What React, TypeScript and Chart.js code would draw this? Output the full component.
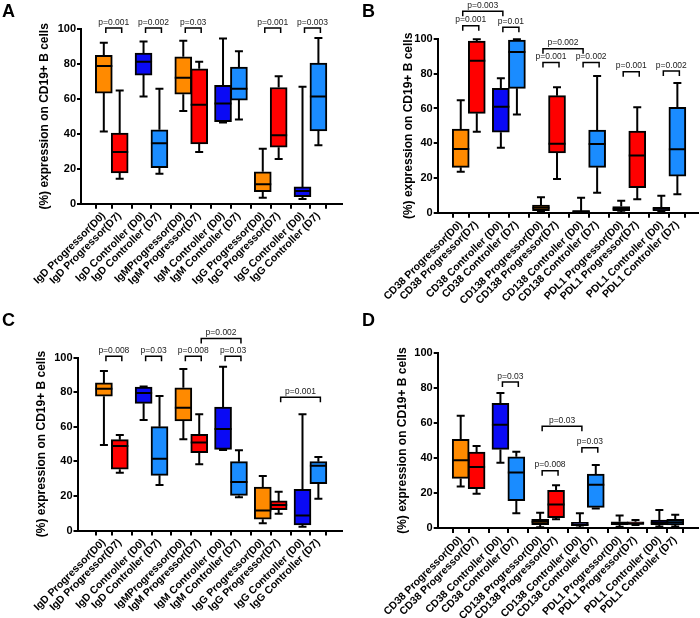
import React, { useEffect, useRef } from "react";
import { Chart, registerables } from "chart.js";

Chart.register(...registerables);

const FONT = "'Liberation Sans', Arial, Helvetica, sans-serif";
Chart.defaults.font.family = FONT;

// ---------- categories ----------
const labelsIg = [
  "IgD Progressor(D0)", "IgD Progressor(D7)", "IgD Controller (D0)", "IgD Controller (D7)",
  "IgMProgressor(D0)", "IgM Progressor(D7)", "IgM Controller (D0)", "IgM Controller (D7)",
  "IgG Progressor(D0)", "IgG Progressor(D7)", "IgG Controller (D0)", "IgG Controller (D7)",
];
const labelsCD = [
  "CD38 Progressor(D0)", "CD38 Progressor(D7)", "CD38 Controller (D0)", "CD38 Controller (D7)",
  "CD138 Progressor(D0)", "CD138 Progressor(D7)", "CD138 Controller (D0)", "CD138 Controller (D7)",
  "PDL1 Progressor(D0)", "PDL1 Progressor(D7)", "PDL1 Controller (D0)", "PDL1 Controller (D7)",
];
// x slots of the 12 boxes (pairs touch, gap between pairs)
const slots = [0, 2, 5, 7, 10, 12, 15, 17, 20, 22, 25, 27];
const yTicks = [0, 20, 40, 60, 80, 100];

// ---------- panel A ----------
const aMin = [41.3, 14.3, 61.4, 17.2, 53, 29.6, 46.5, 48.2, 3.4, 25.6, 2.7, 33.5];
const aQ1 = [63.3, 17.6, 73.6, 20.6, 62.7, 34.2, 47, 59.3, 6.9, 32.3, 4, 41.7];
const aMed = [78.8, 29.6, 81.2, 34.6, 72.1, 56.6, 57.3, 65.8, 11.1, 39.2, 7.3, 61.4];
const aQ3 = [85, 40.4, 86.2, 42.3, 84.1, 77.2, 67.7, 78.2, 18.3, 66.5, 9.6, 80.5];
const aMax = [92.1, 64.8, 92.9, 65.8, 93.3, 81.3, 94.6, 87.2, 31.5, 73, 66.9, 94.8];
const aBrFrom = [0, 2, 4, 8, 10];
const aBrTo = [1, 3, 5, 9, 11];
const aBrText = ["p=0.001", "p=0.002", "p=0.03", "p=0.001", "p=0.003"];
const aBrLevel = [100.6, 100.6, 100.6, 100.6, 100.6];

// ---------- panel B ----------
const bMin = [23.6, 46.6, 37.4, 56.6, 0.4, 19.4, 0.1, 11.5, 0.3, 7.7, 0.4, 10.6];
const bQ1 = [26.1, 57.2, 46.3, 71.6, 1.2, 34.4, 0.3, 26.1, 1.2, 14.4, 1.2, 21.1];
const bMed = [36.7, 87.5, 61, 92.5, 2.9, 39.7, 0.7, 39.6, 2.3, 33, 2.3, 36.5];
const bQ3 = [48.2, 98.8, 71.6, 99.4, 4.4, 67.4, 1.2, 47.6, 3.5, 47, 3.1, 60.7];
const bMax = [64.7, 99.8, 77.4, 99.8, 8.9, 72.2, 8.6, 78.7, 6.9, 60.7, 9.8, 74.7];
const bBrFrom = [0, 0, 2, 4, 4, 6, 8, 10];
const bBrTo = [1, 2, 3, 5, 6, 7, 9, 11];
const bBrText = ["p=0.001", "p=0.003", "p=0.01", "p=0.001", "p=0.002", "p=0.002", "p=0.001", "p=0.002"];
const bBrLevel = [107.7, 116, 106.7, 86.4, 94.4, 86.4, 81.2, 81.6];

// ---------- panel C ----------
const cMin = [49.4, 33.4, 63.9, 26.3, 52.7, 38.3, 46.5, 19.2, 4.2, 9.7, 2.2, 18.4];
const cQ1 = [77.6, 35.4, 73.5, 31.9, 63.3, 45, 46.9, 20.3, 6.5, 12, 3.2, 27.1];
const cMed = [82, 48.8, 79.5, 41.5, 71, 50.8, 58.7, 28, 11.5, 14.7, 8.6, 37.5];
const cQ3 = [85.3, 52.5, 82.9, 60, 82.5, 55.6, 71.4, 39.8, 25.1, 17.1, 23.8, 39.8];
const cMax = [92.2, 55.2, 83.3, 77.7, 93.4, 67.2, 94.7, 46.4, 31.5, 22.4, 67.2, 42.5];
const cBrFrom = [0, 2, 4, 6, 5, 9];
const cBrTo = [1, 3, 5, 7, 7, 11];
const cBrText = ["p=0.008", "p=0.03", "p=0.008", "p=0.03", "p=0.002", "p=0.001"];
const cBrLevel = [100.7, 100.7, 100.7, 100.7, 111, 77];

// ---------- panel D ----------
const dMin = [23.7, 19.6, 37.4, 8.4, 0.5, 5, 0.3, 11.2, 0.7, 1.7, 0.8, 0.9];
const dQ1 = [28.4, 22.5, 45, 15.6, 1.9, 5.9, 1.3, 11.8, 1.9, 2.1, 1.9, 1.7];
const dMed = [38.8, 34.9, 59.1, 31.7, 3.6, 13.4, 1.8, 24.8, 2.8, 2.6, 3, 3.3];
const dQ3 = [50.8, 43.5, 71.4, 40.8, 5, 21.6, 3.2, 30.9, 3.6, 3.6, 4.6, 5];
const dMax = [64.3, 46.9, 77.3, 43.7, 8.8, 24.4, 8.4, 36.1, 7.2, 4.6, 10.3, 7.6];
const dBrFrom = [2, 4, 4, 6];
const dBrTo = [3, 6, 5, 7];
const dBrText = ["p=0.03", "p=0.03", "p=0.008", "p=0.03"];
const dBrLevel = [83.6, 58.2, 32.8, 46];

// ---------- styles ----------
const groupColors = ["#FF8A00", "#FF0000", "#0A0AF5", "#1A8CFF"];
const Y_TITLE = "(%) expression on CD19+ B cells";
const BOX_W = 17;
const CAP_W = 8;

type Panel = {
  letter: string;
  left: number;
  top: number;
  labels: string[];
  min: number[]; q1: number[]; med: number[]; q3: number[]; max: number[];
  brFrom: number[]; brTo: number[]; brText: string[]; brLevel: number[];
  padLeft: number; padTop: number; padRight: number;
  yWidth: number; xHeight: number; xMin: number; xMax: number;
};

const panels: Panel[] = [
  { letter: "A", left: 0, top: 0, labels: labelsIg, min: aMin, q1: aQ1, med: aMed, q3: aQ3, max: aMax,
    brFrom: aBrFrom, brTo: aBrTo, brText: aBrText, brLevel: aBrLevel,
    padLeft: 33.8, padTop: 29, padRight: 8, yWidth: 47.2, xHeight: 105.3, xMin: -1.5, xMax: 28.6 },
  { letter: "B", left: 350, top: 0, labels: labelsCD, min: bMin, q1: bQ1, med: bMed, q3: bQ3, max: bMax,
    brFrom: bBrFrom, brTo: bBrTo, brText: bBrText, brLevel: bBrLevel,
    padLeft: 47.8, padTop: 39, padRight: 2, yWidth: 39.9, xHeight: 96.3, xMin: -1.52, xMax: 28.22 },
  { letter: "C", left: 0, top: 309, labels: labelsIg, min: cMin, q1: cQ1, med: cMed, q3: cQ3, max: cMax,
    brFrom: cBrFrom, brTo: cBrTo, brText: cBrText, brLevel: cBrLevel,
    padLeft: 30.5, padTop: 48.5, padRight: 8.3, yWidth: 47, xHeight: 87.5, xMin: -1.94, xMax: 28.55 },
  { letter: "D", left: 350, top: 309, labels: labelsCD, min: dMin, q1: dQ1, med: dMed, q3: dQ3, max: dMax,
    brFrom: dBrFrom, brTo: dBrTo, brText: dBrText, brLevel: dBrLevel,
    padLeft: 41.8, padTop: 44.3, padRight: 2, yWidth: 45.9, xHeight: 90, xMin: -1.53, xMax: 28.5 },
];

function makeExtras(p: Panel) {
  return {
    id: "boxExtras" + p.letter,
    afterDatasetsDraw(chart: any) {
      const { ctx } = chart;
      const x = chart.scales.x;
      const y = chart.scales.y;
      ctx.save();
      ctx.strokeStyle = "#000";
      ctx.lineWidth = 2;
      ctx.lineCap = "butt";
      for (let i = 0; i < slots.length; i++) {
        const cx = x.getPixelForValue(slots[i]);
        const yMin = y.getPixelForValue(p.min[i]);
        const yQ1 = y.getPixelForValue(p.q1[i]);
        const yQ3 = y.getPixelForValue(p.q3[i]);
        const yMax = y.getPixelForValue(p.max[i]);
        const yMed = y.getPixelForValue(p.med[i]);
        ctx.beginPath();
        // upper whisker
        ctx.moveTo(cx, yQ3);
        ctx.lineTo(cx, yMax);
        ctx.moveTo(cx - CAP_W / 2, yMax);
        ctx.lineTo(cx + CAP_W / 2, yMax);
        // lower whisker
        ctx.moveTo(cx, yQ1);
        ctx.lineTo(cx, yMin);
        ctx.moveTo(cx - CAP_W / 2, yMin);
        ctx.lineTo(cx + CAP_W / 2, yMin);
        // median
        ctx.moveTo(cx - BOX_W / 2, yMed);
        ctx.lineTo(cx + BOX_W / 2, yMed);
        ctx.stroke();
      }
      // significance brackets
      ctx.lineWidth = 1.5;
      ctx.fillStyle = "#222";
      ctx.font = "8.5px " + FONT;
      ctx.textAlign = "center";
      ctx.textBaseline = "bottom";
      for (let k = 0; k < p.brText.length; k++) {
        const x1 = x.getPixelForValue(slots[p.brFrom[k]]) + 2;
        const x2 = x.getPixelForValue(slots[p.brTo[k]]) + 2;
        const yy = y.getPixelForValue(p.brLevel[k]);
        ctx.beginPath();
        ctx.moveTo(x1, yy + 5);
        ctx.lineTo(x1, yy);
        ctx.lineTo(x2, yy);
        ctx.lineTo(x2, yy + 5);
        ctx.stroke();
        ctx.fillText(p.brText[k], (x1 + x2) / 2, yy - 1.5);
      }
      ctx.restore();
    },
  };
}

function PanelChart({ p }: { p: Panel }) {
  const ref = useRef<HTMLCanvasElement | null>(null);
  useEffect(() => {
    if (!ref.current) return;
    const chart = new Chart(ref.current, {
      type: "bar",
      data: {
        datasets: [
          {
            data: slots.map((s, i) => ({ x: s, y: [p.q1[i], p.q3[i]] })) as any,
            backgroundColor: slots.map((_, i) => groupColors[i % 4]),
            borderColor: "#000",
            borderWidth: 2,
            borderSkipped: false,
            barThickness: BOX_W,
          },
        ],
      },
      options: {
        animation: false,
        responsive: false,
        devicePixelRatio: 1,
        layout: { padding: { left: p.padLeft, top: p.padTop, right: p.padRight, bottom: 0 } },
        plugins: { legend: { display: false }, tooltip: { enabled: false } },
        scales: {
          x: {
            type: "linear",
            min: p.xMin,
            max: p.xMax,
            afterBuildTicks: (scale: any) => {
              scale.ticks = slots.map((v) => ({ value: v }));
            },
            afterFit: (scale: any) => {
              scale.height = p.xHeight;
            },
            ticks: {
              autoSkip: false,
              minRotation: 45,
              maxRotation: 45,
              padding: 1,
              color: "#000",
              font: { size: 10.5, weight: "bold", family: FONT },
              callback: (v: any) => {
                const idx = slots.indexOf(Number(v));
                return idx >= 0 ? p.labels[idx] : "";
              },
            },
            grid: { display: true, drawOnChartArea: false, drawTicks: true, tickLength: 5, color: "#000", lineWidth: 2 },
            border: { display: true, color: "#000", width: 2 },
          },
          y: {
            type: "linear",
            min: 0,
            max: 100,
            afterBuildTicks: (scale: any) => {
              scale.ticks = yTicks.map((v) => ({ value: v }));
            },
            afterFit: (scale: any) => {
              scale.width = p.yWidth;
            },
            ticks: {
              color: "#000",
              padding: 1,
              font: { size: 11, weight: "bold", family: FONT },
            },
            grid: { display: true, drawOnChartArea: false, drawTicks: true, tickLength: 4, color: "#000", lineWidth: 2 },
            border: { display: true, color: "#000", width: 2 },
            title: {
              display: true,
              text: Y_TITLE,
              color: "#000",
              font: { size: 12, weight: "bold", family: FONT },
              padding: { top: 4, bottom: 4 },
            },
          },
        },
      } as any,
      plugins: [makeExtras(p)],
    });
    return () => chart.destroy();
  }, [p]);
  return (
    <canvas
      ref={ref}
      width={350}
      height={309}
      style={{ position: "absolute", left: p.left, top: p.top, width: 350, height: 309 }}
    />
  );
}

export default function App() {
  return (
    <div style={{ position: "absolute", left: 0, top: 0, width: 700, height: 618, background: "#fff", overflow: "hidden" }}>
      {panels.map((p) => (
        <PanelChart key={p.letter} p={p} />
      ))}
      {panels.map((p) => (
        <div
          key={"l" + p.letter}
          style={{
            position: "absolute",
            left: p.left + (p.left ? 12 : 2),
            top: p.top + 2,
            fontFamily: FONT,
            fontWeight: "bold",
            fontSize: 18,
            lineHeight: "18px",
            color: "#000",
          }}
        >
          {p.letter}
        </div>
      ))}
    </div>
  );
}
